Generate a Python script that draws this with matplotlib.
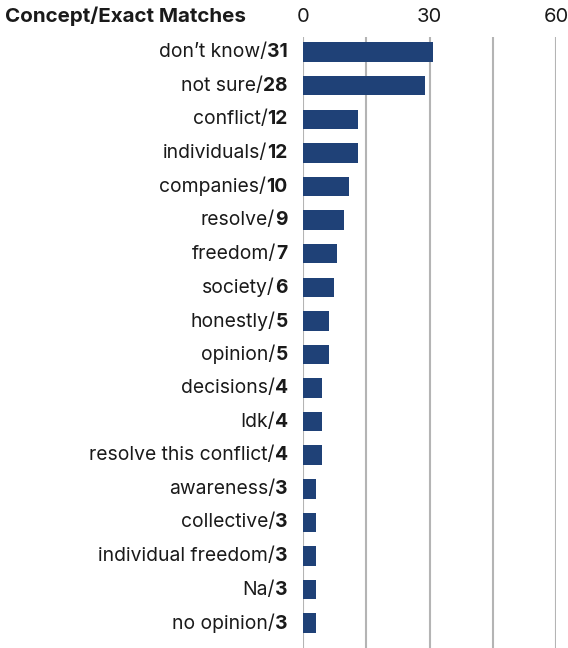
import matplotlib
matplotlib.use("Agg")
import matplotlib.pyplot as plt
from matplotlib.offsetbox import TextArea, HPacker, AnnotationBbox

plt.rcParams['font.family'] = ['Inter', 'DejaVu Sans']

categories = ["don\u2019t know", "not sure", "conflict", "individuals", "companies",
              "resolve", "freedom", "society", "honestly", "opinion", "decisions",
              "Idk", "resolve this conflict", "awareness", "collective",
              "individual freedom", "Na", "no opinion"]
label_counts = [31, 28, 12, 12, 10, 9, 7, 6, 5, 5, 4, 4, 4, 3, 3, 3, 3, 3]
bar_values = [30.8, 29.0, 13.0, 13.0, 10.9, 9.7, 8.1, 7.4, 6.2, 6.2, 4.5, 4.5, 4.5,
              3.0, 3.0, 3.0, 3.0, 3.0]
tick_values = [0, 30, 60]
grid_values = [0, 15, 30, 45, 60]

bar_color = "#1f4177"
text_color = "#1a1a1a"
grid_color = "#b4b4b4"

fig = plt.figure(figsize=(5.68, 6.48), dpi=100)
ax = fig.add_axes([303/568, 0, 253/568, 611/648])

y = list(range(len(categories)))
ax.barh(y, bar_values, height=0.58, color=bar_color, zorder=3)
ax.set_xlim(0, 60)
ax.set_ylim(17.74, -0.45)

for g in grid_values:
    ax.axvline(g, color=grid_color, lw=1.5, zorder=1)

for s in ax.spines.values():
    s.set_visible(False)
ax.set_yticks([])
ax.xaxis.tick_top()
ax.set_xticks(tick_values)
ax.set_xticklabels([str(t) for t in tick_values], fontsize=14.5, color=text_color)
ax.tick_params(axis='x', length=0, pad=8)

fs = 13.9
for yi, cat, cnt in zip(y, categories, label_counts):
    t1 = TextArea(cat + "/", textprops=dict(fontsize=fs, color=text_color, fontweight='normal'))
    t2 = TextArea(str(cnt), textprops=dict(fontsize=fs, color=text_color, fontweight='bold'))
    box = HPacker(children=[t1, t2], align="baseline", pad=0, sep=0)
    ab = AnnotationBbox(box, (0, yi), xybox=(-11, 0), xycoords='data',
                        boxcoords='offset points', box_alignment=(1, 0.5),
                        frameon=False, pad=0, annotation_clip=False)
    ax.add_artist(ab)

fig.text(5/568, 1 - 16/648, "Concept/Exact Matches", fontsize=14.8, fontweight='bold',
         color=text_color, ha='left', va='center')

fig.savefig("out.png", dpi=100)
